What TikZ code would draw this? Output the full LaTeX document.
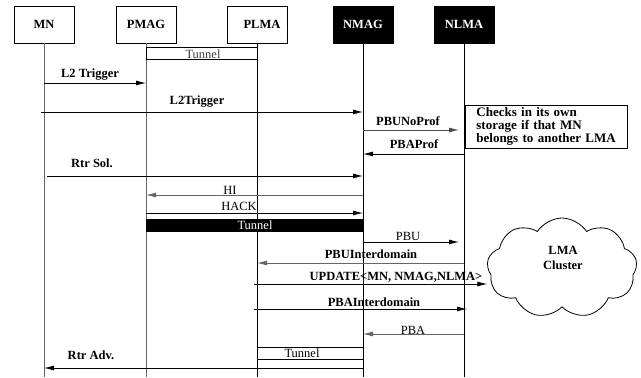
\documentclass[tikz,border=0pt]{standalone}
\usepackage{fontspec}
\setmainfont{Liberation Serif}
\usetikzlibrary{arrows.meta,shapes.symbols}
\begin{document}
\begin{tikzpicture}[x=1pt, y=-1pt,
        actor/.style={rectangle, draw, line width=0.8pt,
          minimum width=60pt, minimum height=37pt,
        font=\fontsize{12.5}{13}\selectfont\bfseries},
        newactor/.style={actor, fill=black, text=white},
        life/.style={line width=0.9pt},
        msg/.style={line width=0.8pt, -{Latex[length=10pt, width=5pt]}},
        lbl/.style={anchor=base, inner sep=0pt,
        font=\fontsize{12.5}{13}\selectfont\bfseries},
        txt/.style={anchor=base, inner sep=0pt,
        font=\fontsize{12.5}{13}\selectfont},
      ]
      \useasboundingbox (0,0) rectangle (641,378);

      \node[actor] (mn) at (44,24.5) {MN\hspace{7pt}};
      \node[actor] (pmag) at (146,24.5) {PMAG};
      \node[actor] (plma) at (257,24.5) {\hspace{10pt}PLMA};
      \node[newactor] (nmag) at (363,24.5) {NMAG};
      \node[newactor] (nlma) at (464,24.5) {NLMA};

      \draw[life, black!60] (mn.south) -- (mn.south |- 0,377);
      \draw[life, black!60] (pmag.south) -- (pmag.south |- 0,377);
      \draw[life] (plma.south) -- (plma.south |- 0,377);
      \draw[life] (nmag.south) -- (nmag.south |- 0,377);
      \draw[life] (nlma.south) -- (nlma.south |- 0,377);

      \draw[line width=0.8pt] (pmag.south |- 0,47) rectangle (plma.south |- 0,59);
      \node[txt, text=black!75] (tunnela) at (203,58) {Tunnel};

      \draw[msg] (mn.south |- 0,83) -- (pmag.south |- 0,83);
      \node[lbl] (l2a) at (90,77) {L2 Trigger};

      \draw[msg] ([xshift=-3pt]mn.south |- 0,112) -- (nmag.south |- 0,112);
      \node[lbl] (l2b) at (197,104) {L2Trigger};

      \draw[msg, black!70] (nmag.south |- 0,130) -- ([xshift=-5pt]nlma.south |- 0,130);
      \node[lbl] (pbunoprof) at (408,125) {PBUNoProf};

      \node[rectangle, draw, line width=0.8pt, anchor=north west,
        minimum width=162pt, minimum height=43pt, text width=140pt,
        inner xsep=11pt, inner ysep=1pt, align=left,
      font=\fontsize{13}{13}\selectfont\bfseries] (check) at (465,105)
      {Checks in its own\\storage if that MN\\belongs to another LMA};

      \draw[msg] (nlma.south |- 0,154) -- (nmag.south |- 0,154);
      \node[lbl] (pbaprof) at (414,148) {PBAProf};

      \draw[msg] ([xshift=3pt]mn.south |- 0,176) -- (nmag.south |- 0,176);
      \node[lbl] (rtrsol) at (92,167) {Rtr Sol.};

      \draw[msg, black!60] (nmag.south |- 0,195) -- (pmag.south |- 0,195);
      \node[txt] (hi) at (230,194) {HI};

      \draw[msg] (pmag.south |- 0,213) -- (nmag.south |- 0,213);
      \node[txt] (hack) at (239,210) {HACK};

      \fill (pmag.south |- 0,219) rectangle (nmag.south |- 0,232);
      \node[txt, text=white] (tunnelb) at (255,229) {Tunnel};

      \draw[msg] (nmag.south |- 0,242) -- ([xshift=-5pt]nlma.south |- 0,242);
      \node[txt] (pbu) at (408,240) {PBU};

      \node[cloud, draw, line width=0.8pt, cloud puffs=9, cloud puff arc=115,
        aspect=1.5, minimum width=150pt, minimum height=100pt] (cluster)
      at (562,268) {};
      \node[lbl, anchor=center, align=center,
      font=\fontsize{12.5}{15}\selectfont\bfseries] (clustertxt) at (563,258) {LMA\\Cluster};

      \draw[msg, black!60] (nlma.south |- 0,263) -- (plma.south |- 0,263);
      \node[lbl] (pbuinter) at (371,258) {PBUInterdomain};

      \draw[msg] ([xshift=-3pt]plma.south |- 0,284) -- (cluster.west |- 0,284);
      \node[lbl] (update) at (396,280) {UPDATE\textless MN, NMAG,NLMA\textgreater};

      \draw[msg] ([xshift=-3pt]plma.south |- 0,309) -- ([xshift=3pt]nlma.south |- 0,309);
      \node[lbl] (pbainter) at (374,306) {PBAInterdomain};

      \draw[msg, black!60] (nlma.south |- 0,334) -- (nmag.south |- 0,334);
      \node[txt] (pba) at (413,334) {PBA};

      \draw[line width=0.8pt] (plma.south |- 0,347) rectangle (nmag.south |- 0,359);
      \node[txt] (tunnelc) at (302,357) {Tunnel};

      \draw[msg] (nmag.south |- 0,368) -- (mn.south |- 0,368);
      \node[lbl] (rtradv) at (91,359) {Rtr Adv.};

    \end{tikzpicture}
\end{document}
